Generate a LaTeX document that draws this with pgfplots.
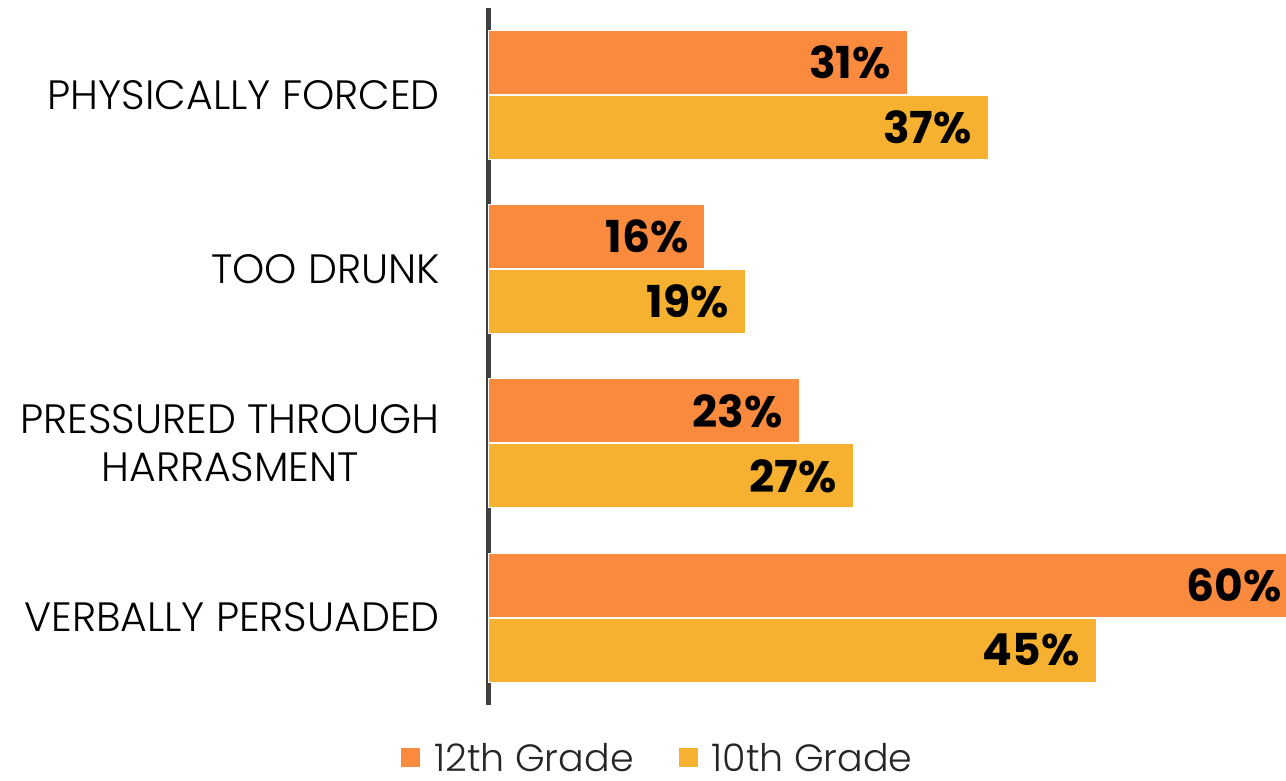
\documentclass[border=0pt]{standalone}
\usepackage{pgfplots}
\pgfplotsset{compat=1.18}
\usepackage{fontspec}
\setmainfont{Poppins}
\newfontfamily\lightfont{Poppins}[UprightFont=* Light]
\definecolor{orng}{HTML}{F98A3E}
\definecolor{yell}{HTML}{F5B12F}
\definecolor{axgray}{HTML}{404040}
\begin{document}
\begin{tikzpicture}
\begin{axis}[
  at={(489pt,75pt)}, anchor=south west,
  scale only axis,
  width=809.4pt, height=697pt,
  xbar,
  bar width=64pt,
  xmin=0, xmax=60,
  ymin=-0.502, ymax=3.5,
  axis x line=none,
  axis y line=left,
  y axis line style={-, line width=5pt, draw=axgray},
  xtick=\empty,
  ytick={0,1,2,3},
  yticklabels={VERBALLY PERSUADED, {PRESSURED THROUGH\\HARRASMENT}, TOO DRUNK, PHYSICALLY FORCED},
  major tick length=0pt,
  yticklabel style={inner sep=0pt, xshift=-49pt, align=center, text=black,
    font=\lightfont\fontsize{41}{48}\selectfont},
  point meta=x,
  nodes near coords={\pgfmathprintnumber[assume math mode=true]{\pgfplotspointmeta}\%},
  nodes near coords style={anchor=east, xshift=-16pt, inner sep=0pt, text=black,
    font=\bfseries\fontsize{44}{44}\selectfont},
  legend columns=2,
  legend style={at={(0.207,-0.076)}, anchor=center, draw=none, fill=none,
    font=\lightfont\fontsize{38}{38}\selectfont, text=black!85,
    nodes={inner sep=0pt},
    /tikz/every odd column/.append style={column sep=13pt},
    /tikz/every even column/.append style={column sep=44pt}},
  legend image code/.code={\fill[#1] (0pt,-10pt) rectangle (20pt,10pt);},
  clip=false,
]
\addplot[fill=orng, draw=white, line width=1pt, bar shift=32.5pt] coordinates {(60,0) (23,1) (16,2) (31,3)};
\addplot[fill=yell, draw=white, line width=1pt, bar shift=-32.5pt] coordinates {(45,0) (27,1) (19,2) (37,3)};
\legend{12th Grade, 10th Grade}
\end{axis}
\pgfresetboundingbox
\path[use as bounding box] (0,0) rectangle (1286pt,780pt);
\end{tikzpicture}
\end{document}
